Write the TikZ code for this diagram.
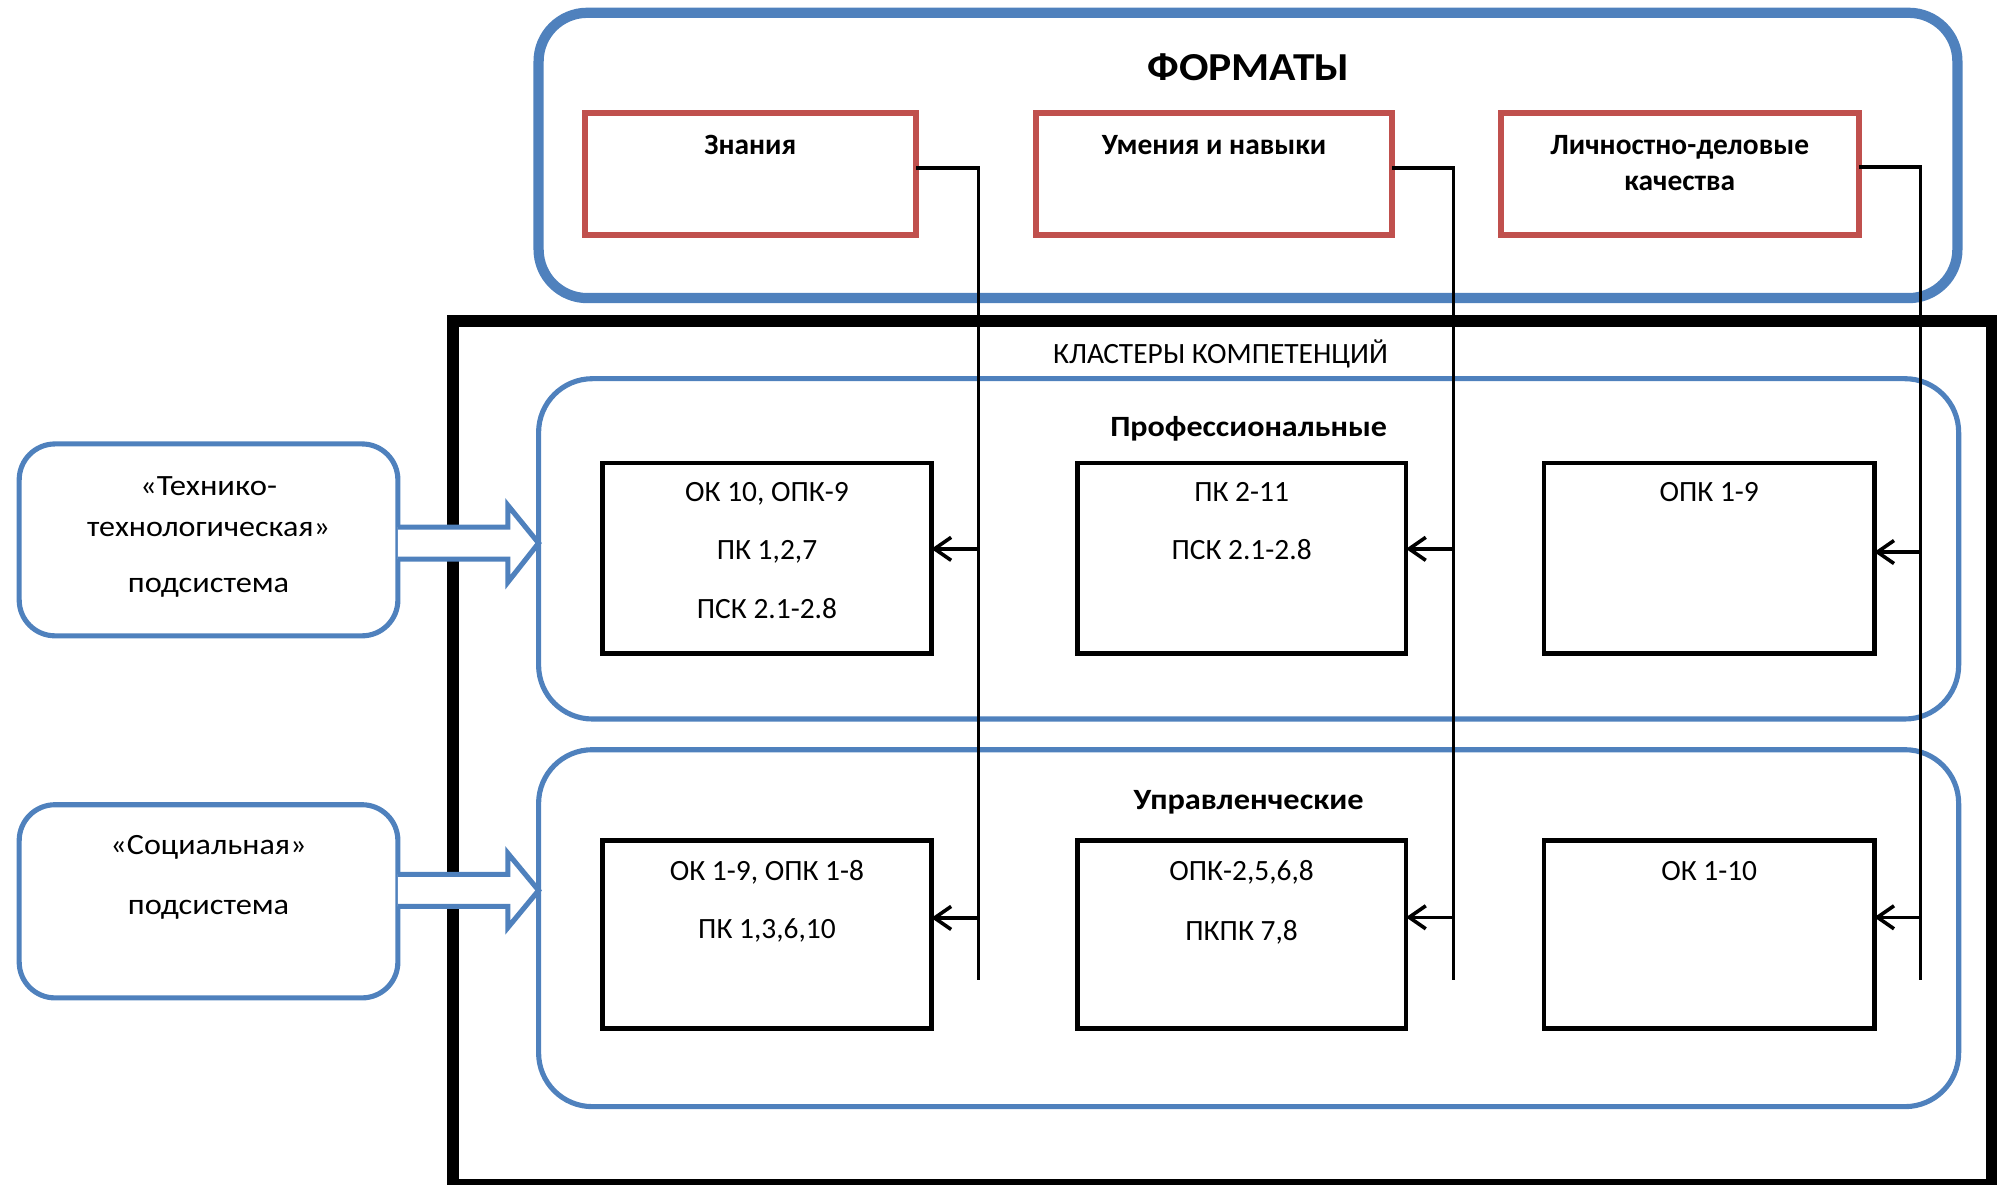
\documentclass[tikz,border=0pt]{standalone}
\usepackage{fontspec}
\usepackage{graphicx}
\setmainfont{Carlito}
\usetikzlibrary{arrows.meta,calc}
\definecolor{cblue}{HTML}{4F81BD}
\definecolor{cred}{HTML}{C0504D}
\newcommand\hstretch[2][1.09]{\scalebox{#1}[1]{#2}}
\begin{document}
\begin{tikzpicture}[x=0.5pt,y=-0.5pt,
  every node/.style={inner sep=0pt, outer sep=0pt},
  txt/.style={font=\fontsize{11.5}{13.8}\selectfont, anchor=base},
  btxt/.style={font=\fontsize{11.5}{13.8}\selectfont\bfseries, anchor=base},
  ttl/.style={font=\fontsize{15.5}{18}\selectfont\bfseries, anchor=base},
  bigblue/.style={draw=cblue, line width=4pt, rounded corners=19pt},
  redbox/.style={draw=cred, line width=2.3pt},
  frame/.style={draw=black, line width=4.4pt},
  group/.style={draw=cblue, line width=2pt, rounded corners=21pt},
  sidebox/.style={draw=cblue, line width=2pt, rounded corners=14pt},
  compbox/.style={draw=black, line width=1.8pt},
  blockarrow/.style={draw=cblue, fill=white, line width=2pt, line join=miter},
  conn/.style={draw=black, line width=1.4pt},
  arr/.style={conn, -{Straight Barb[length=6.5pt,width=9pt]}}
]
\useasboundingbox (0,0) rectangle (1568,926);

% FORMATS
\node[bigblue, minimum width=554.5pt, minimum height=111.5pt] (formats) at (975.5,121.5) {};
\node[redbox, minimum width=129.5pt, minimum height=48pt] (znan) at (586.5,136) {};
\node[redbox, minimum width=139pt, minimum height=48pt] (umen) at (949,136) {};
\node[redbox, minimum width=140pt, minimum height=48pt] (lich) at (1313,136) {};

% clusters frame
\node[frame, minimum width=601.3pt, minimum height=337.5pt] (clus) at (955.3,588.5) {};

% side boxes
\node[sidebox, minimum width=148pt, minimum height=75pt] (tech) at (163,422) {};
\node[sidebox, minimum width=148pt, minimum height=75.5pt] (soc) at (163,704.5) {};

% groups
\node[group, minimum width=555pt, minimum height=133pt] (prof) at (976,429) {};
\node[group, minimum width=555pt, minimum height=139.5pt] (upr) at (976,725.5) {};

% block arrows
\draw[blockarrow] ($(tech.east)+(0,-10)$) -- ++(86,0) -- ++(0,-17)
  -- ($(prof.west)+(0,-4.5)$) -- ($(prof.west)+(-24,26)$) -- ++(0,-18)
  -- ($(tech.east)+(0,15)$);
\draw[blockarrow] ($(soc.east)+(0,-21)$) -- ++(86,0) -- ++(0,-16.5)
  -- ($(upr.west)+(0,-29.5)$) -- ($(upr.west)+(-24,-0.5)$) -- ++(0,-16.5)
  -- ($(soc.east)+(0,4)$);

% competence boxes
\node[compbox, minimum width=128.5pt, minimum height=74.5pt] (b11) at (599.5,436.5) {};
\node[compbox, minimum width=128.5pt, minimum height=74.5pt] (b12) at (970.5,436.5) {};
\node[compbox, minimum width=129pt, minimum height=74.5pt] (b13) at (1336,436.5) {};
\node[compbox, minimum width=128.5pt, minimum height=73.5pt] (b21) at (599.5,730.5) {};
\node[compbox, minimum width=128.5pt, minimum height=73.5pt] (b22) at (970.5,730.5) {};
\node[compbox, minimum width=129pt, minimum height=73.5pt] (b23) at (1336,730.5) {};

% connectors
\coordinate (v1) at (765,766);
\coordinate (v2) at (1136,766);
\coordinate (v3) at (1501,766);
\draw[conn] ($(znan.east)+(0,-4.5)$) -| (v1);
\draw[conn] ($(umen.east)+(0,-4.5)$) -| (v2);
\draw[conn] ($(lich.east)+(0,-5.5)$) -| (v3);
\coordinate (a11) at ($(b11.east)+(0,-7.5)$);
\coordinate (a12) at ($(b12.east)+(0,-7.5)$);
\coordinate (a13) at ($(b13.east)+(0,-5)$);
\coordinate (a21) at ($(b21.east)+(0,-13)$);
\coordinate (a22) at ($(b22.east)+(0,-13.5)$);
\coordinate (a23) at ($(b23.east)+(0,-13.5)$);
\draw[arr] (a11 -| v1) -- (a11);
\draw[arr] (a12 -| v2) -- (a12);
\draw[arr] (a13 -| v3) -- (a13);
\draw[arr] (a21 -| v1) -- (a21);
\draw[arr] (a22 -| v2) -- (a22);
\draw[arr] (a23 -| v3) -- (a23);

% texts
\node[ttl] (t-form) at (976,63) {\hstretch[1.1]{ФОРМАТЫ}};
\node[btxt] (t-znan) at (586.5,121) {Знания};
\node[btxt] (t-umen) at (949,121) {Умения и навыки};
\node[btxt] (t-lich1) at (1313,121) {Личностно-деловые};
\node[btxt] (t-lich2) at (1313,148.6) {качества};
\node[txt] (t-clus) at (954,284.5) {КЛАСТЕРЫ КОМПЕТЕНЦИЙ};
\node[btxt] (t-prof) at (976,341) {\hstretch{Профессиональные}};
\node[btxt] (t-upr) at (976,632.5) {\hstretch[1.1]{Управленческие}};

\node[txt] (t-b11a) at (599.5,392) {ОК 10, ОПК-9};
\node[txt] (t-b11b) at (599.5,437) {ПК 1,2,7};
\node[txt] (t-b11c) at (599.5,483.5) {ПСК 2.1-2.8};
\node[txt] (t-b12a) at (970.5,392) {ПК 2-11};
\node[txt] (t-b12b) at (970.5,437.5) {ПСК 2.1-2.8};
\node[txt] (t-b13a) at (1336,392) {ОПК 1-9};
\node[txt] (t-b21a) at (599.5,688.5) {ОК 1-9, ОПК 1-8};
\node[txt] (t-b21b) at (599.5,733.5) {ПК 1,3,6,10};
\node[txt] (t-b22a) at (970.5,688.5) {ОПК-2,5,6,8};
\node[txt] (t-b22b) at (970.5,735) {ПКПК 7,8};
\node[txt] (t-b23a) at (1336,688.5) {ОК 1-10};

\node[txt] (t-tech1) at (163,387) {\hstretch[1.11]{«Технико-}};
\node[txt] (t-tech2) at (163,419) {\hstretch{технологическая»}};
\node[txt] (t-tech3) at (163,463) {\hstretch[1.1]{подсистема}};
\node[txt] (t-soc1) at (163,668) {\hstretch{«Социальная»}};
\node[txt] (t-soc2) at (163,715) {\hstretch[1.1]{подсистема}};
\end{tikzpicture}
\end{document}
